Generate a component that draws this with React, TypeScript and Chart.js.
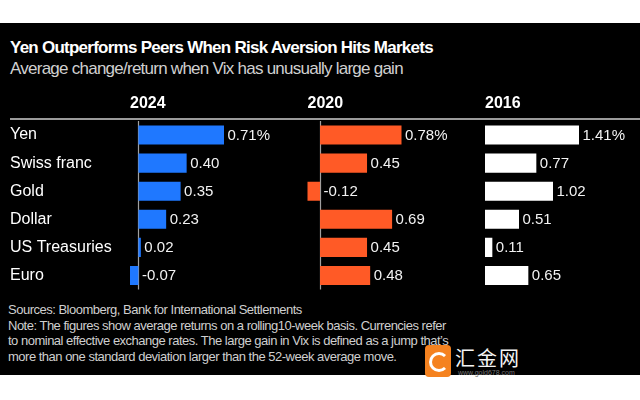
import React, { useEffect, useRef } from "react";
import { Chart, registerables } from "chart.js";

Chart.register(...registerables);

// ---- data ----
const categories = ["Yen", "Swiss franc", "Gold", "Dollar", "US Treasuries", "Euro"];
const years = ["2024", "2020", "2016"];
const values2024 = [0.71, 0.4, 0.35, 0.23, 0.02, -0.07];
const values2020 = [0.78, 0.45, -0.12, 0.69, 0.45, 0.48];
const values2016 = [1.41, 0.77, 1.02, 0.51, 0.11, 0.65];
const series = [values2024, values2020, values2016];
const barColors = ["#1f78ff", "#ff5a26", "#ffffff"];

const titleText = "Yen Outperforms Peers When Risk Aversion Hits Markets";
const subtitleText = "Average change/return when Vix has unusually large gain";
const footerLines = [
  "Sources: Bloomberg, Bank for International Settlements",
  "Note: The figures show average returns on a rolling10-week basis. Currencies refer",
  "to nominal effective exchange rates. The large gain in Vix is defined as a jump that\u2019s",
  "more than one standard deviation larger than the 52-week average move.",
];

const FONT = '"Liberation Sans", Arial, Helvetica, sans-serif';

// fraction of the plot width each small-multiple panel takes, and the bar span in it
const PANEL_STEP = 177.5 / 510;
const BAR_SPAN = 94 / 510;

function panelScale(vals: number[], k: number) {
  const lo = Math.min(0, ...vals);
  const hi = Math.max(0, ...vals);
  const range = (hi - lo) / BAR_SPAN;
  const min = lo - k * PANEL_STEP * range;
  return {
    type: "linear" as const,
    display: false,
    min,
    max: min + range,
  };
}

const overlayPlugin = {
  id: "overlay",
  beforeDatasetsDraw(chart: any) {
    const { ctx, chartArea } = chart;
    ctx.save();
    // header separator
    ctx.strokeStyle = "#cfcfcf";
    ctx.lineWidth = 1.5;
    ctx.beginPath();
    ctx.moveTo(10, chartArea.top - 2);
    ctx.lineTo(chart.width, chartArea.top - 2);
    ctx.stroke();
    series.forEach((vals, k) => {
      const scale = chart.scales["x" + k];
      const lo = Math.min(0, ...vals);
      ctx.fillStyle = "#ffffff";
      ctx.font = `bold 16px ${FONT}`;
      ctx.textAlign = "left";
      ctx.textBaseline = "alphabetic";
      ctx.fillText(years[k], scale.getPixelForValue(lo), chartArea.top - 13.5);
      if (lo < 0) {
        const z = Math.round(scale.getPixelForValue(0)) + 0.5;
        ctx.strokeStyle = "#a0a0a0";
        ctx.lineWidth = 1.2;
        ctx.beginPath();
        ctx.moveTo(z, chartArea.top);
        ctx.lineTo(z, chartArea.bottom);
        ctx.stroke();
      }
    });
    ctx.restore();
  },
  afterDatasetsDraw(chart: any) {
    const { ctx } = chart;
    ctx.save();
    ctx.font = `15px ${FONT}`;
    ctx.fillStyle = "#f2f2f2";
    ctx.textAlign = "left";
    ctx.textBaseline = "middle";
    series.forEach((vals, k) => {
      const meta = chart.getDatasetMeta(k);
      meta.data.forEach((bar: any, i: number) => {
        const v = vals[i];
        const txt = v.toFixed(2) + (i === 0 ? "%" : "");
        const x = Math.max(bar.x, bar.base) + 3.5;
        ctx.fillText(txt, x, bar.y + 0.5);
      });
    });
    ctx.restore();
  },
};

function BarPanels() {
  const ref = useRef<HTMLCanvasElement | null>(null);
  useEffect(() => {
    if (!ref.current) return;
    const chart = new Chart(ref.current, {
      type: "bar",
      data: {
        labels: categories,
        datasets: series.map((vals, k) => ({
          label: years[k],
          data: vals,
          xAxisID: "x" + k,
          backgroundColor: barColors[k],
          borderWidth: 0,
          grouped: false,
          barPercentage: 0.68,
          categoryPercentage: 1,
        })),
      },
      options: {
        indexAxis: "y",
        animation: false,
        responsive: false,
        devicePixelRatio: 1,
        layout: { padding: { top: 31, bottom: 10.5, left: 10, right: 0 } },
        plugins: { legend: { display: false }, tooltip: { enabled: false }, title: { display: false } },
        scales: {
          x0: panelScale(values2024, 0),
          x1: panelScale(values2020, 1),
          x2: panelScale(values2016, 2),
          y: {
            type: "category",
            grid: { display: false },
            border: { display: false },
            ticks: {
              color: "#ffffff",
              crossAlign: "far",
              padding: 0,
              font: { family: FONT, size: 16 },
            },
            afterFit(scale: any) {
              scale.width = 120;
            },
          },
        },
      },
      plugins: [overlayPlugin],
    } as any);
    return () => chart.destroy();
  }, []);
  return (
    <canvas
      ref={ref}
      width={640}
      height={210}
      style={{ position: "absolute", left: 0, top: 90, width: 640, height: 210 }}
    />
  );
}

export default function App() {
  return (
    <div
      style={{
        position: "fixed",
        left: 0,
        top: 0,
        width: 640,
        height: 400,
        background: "#ffffff",
        overflow: "hidden",
        fontFamily: FONT,
      }}
    >
      <div style={{ position: "absolute", left: 0, top: 23, width: 640, height: 352, background: "#000" }} />
      <div
        style={{
          position: "absolute",
          left: 10,
          top: 38,
          fontSize: 17,
          lineHeight: "20px",
          fontWeight: 700,
          color: "#ffffff",
          letterSpacing: "-0.75px",
          whiteSpace: "nowrap",
        }}
      >
        {titleText}
      </div>
      <div
        style={{
          position: "absolute",
          left: 10,
          top: 58.5,
          fontSize: 17,
          lineHeight: "20px",
          color: "#d0d0d0",
          letterSpacing: "-0.75px",
          whiteSpace: "nowrap",
        }}
      >
        {subtitleText}
      </div>
      <BarPanels />
      <div
        style={{
          position: "absolute",
          left: 8,
          top: 302,
          fontSize: 13,
          lineHeight: "15.5px",
          color: "#cfcfcf",
          letterSpacing: "-0.5px",
          whiteSpace: "nowrap",
        }}
      >
        {footerLines.map((l, i) => (
          <div key={i}>{l}</div>
        ))}
      </div>
      {/* watermark */}
      <div
        style={{
          position: "absolute",
          left: 425,
          top: 345,
          width: 26,
          height: 32,
          borderRadius: 4,
          background: "#f5821f",
        }}
      >
        <div
          style={{
            position: "absolute",
            left: 4,
            top: 7,
            width: 14,
            height: 14,
            borderRadius: "50%",
            border: "3px solid #ffffff",
            borderRightColor: "transparent",
          }}
        />
      </div>
      <div
        style={{
          position: "absolute",
          left: 455,
          top: 346,
          fontSize: 20,
          lineHeight: "24px",
          color: "#f4f4f4",
          fontFamily: '"Noto Sans CJK SC", sans-serif',
          letterSpacing: "2px",
          whiteSpace: "nowrap",
        }}
      >
        汇金网
      </div>
      <div
        style={{
          position: "absolute",
          left: 458,
          top: 369,
          fontSize: 7,
          lineHeight: "8px",
          color: "#777",
          whiteSpace: "nowrap",
        }}
      >
        www.gold678.com
      </div>
    </div>
  );
}
